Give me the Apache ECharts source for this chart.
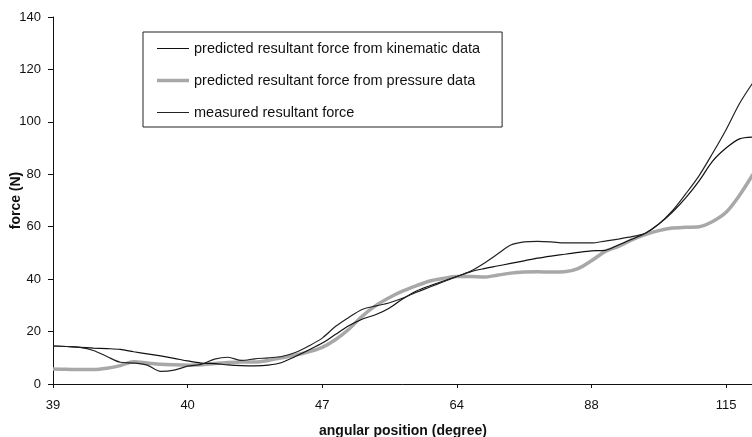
<!DOCTYPE html>
<html>
<head>
<meta charset="utf-8">
<script src="https://cdn.jsdelivr.net/npm/echarts@6/dist/echarts.min.js"></script>
<style>html,body{margin:0;padding:0;background:#fff}#c{width:752px;height:437px}</style>
</head>
<body>
<div id="c"></div>
<script>
// sample positions along the x axis (in tick-label units)
const xPos = [0,0.1,0.2,0.3,0.4,0.5,0.6,0.7,0.8,0.9,1.0,1.1,1.2,1.3,1.4,1.5,1.6,1.7,1.8,1.9,2.0,2.1,2.2,2.3,2.4,2.5,2.6,2.7,2.8,2.9,3.0,3.1,3.2,3.3,3.4,3.5,3.6,3.7,3.8,3.9,4.0,4.1,4.2,4.3,4.4,4.5,4.6,4.7,4.8,4.9,5.0,5.1,5.2];
const tickLabels = ['39','40','47','64','88','115'];
const yTicks = [0,20,40,60,80,100,120,140];

const kinematic = [14.5,14.3,14.0,13.7,13.5,13.2,12.3,11.5,10.7,9.8,8.8,8.0,7.8,7.3,7.0,6.9,7.2,8.2,10.5,13,15.6,19,22.3,24.8,26.5,29,32.5,35.5,37.5,39.3,41,42.8,44,45,46,47,48,48.8,49.5,50.2,50.8,51,53,55.2,57.5,61,65.5,71,77.5,85,90,93.5,94.2];
const pressure = [5.7,5.6,5.5,5.5,6.0,7.0,8.5,8.0,7.5,7.3,7.2,7.3,7.8,8.2,8.4,8.4,9.0,10.0,11.0,12.3,14,17,21,26,30,33,35.5,37.5,39.3,40.3,41,41,40.8,41.5,42.3,42.7,42.8,42.7,42.8,44,47,50.5,52.5,55,57,58.5,59.5,59.8,60,62,65.5,72,80];
const measured = [14.5,14.3,14.0,12.8,10.5,8.3,8.0,7.2,4.8,5.3,6.8,7.5,9.5,10.2,9.0,9.6,10.0,10.5,12.0,14.5,17.5,22,25.5,28.5,29.8,31,32.8,35,37,39,41,43,46,49.5,53,54.2,54.4,54.2,53.8,53.8,53.8,54.5,55.3,56.2,57.5,61,66,72.5,79.5,88,97,107,115];

const names = ['predicted resultant force from kinematic data','predicted resultant force from pressure data','measured resultant force'];
const pair = arr => arr.map((v,i)=>[xPos[i], v]);
const font = 'Liberation Sans, Arial, sans-serif';
// legend icons: horizontal bar inside a 32x14 box (tiny corner specks fix the box)
const box = 'M0,0H0.01V0.01H0Z M31.99,13.99H32V14H31.99Z ';
const thinIcon = 'path://' + box + 'M0,6.4H32V7.6H0Z';
const thickIcon = 'path://' + box + 'M0,5.3H32V8.7H0Z';

const chart = echarts.init(document.getElementById('c'), null, {renderer:'canvas'});
chart.setOption({
  animation:false,
  backgroundColor:'#fff',
  grid:{left:53, top:17, width:700, bottom:53, containLabel:false, outerBoundsMode:'none'},
  legend:{
    orient:'vertical', left:143, top:32,
    padding:[9,22,7,14],
    itemGap:17, itemWidth:32, itemHeight:14,
    borderColor:'#222', borderWidth:1,
    textStyle:{fontFamily:font, fontSize:14.5, color:'#111'},
    data:[
      {name:names[0], icon:thinIcon},
      {name:names[1], icon:thickIcon},
      {name:names[2], icon:thinIcon}
    ]
  },
  xAxis:{
    type:'value', min:0, max:5.2, interval:1,
    name:'angular position (degree)', nameLocation:'middle', nameGap:40,
    nameTextStyle:{fontFamily:font, fontSize:14, fontWeight:'bold', color:'#111'},
    axisLine:{lineStyle:{color:'#111', width:1}},
    axisTick:{show:true, inside:false, length:4, lineStyle:{color:'#111'}, customValues:[0,1,2,3,4,5]},
    axisLabel:{fontFamily:font, fontSize:13, color:'#111', margin:15, customValues:[0,1,2,3,4,5],
      formatter:v=>{const i=Math.round(v); return Math.abs(v-i)<1e-6 && tickLabels[i]!==undefined ? tickLabels[i] : '';}},
    splitLine:{show:false}
  },
  yAxis:{
    type:'value', min:0, max:140, interval:20,
    name:'force (N)', nameLocation:'middle', nameGap:30, nameRotate:90, nameMoveOverlap:false,
    nameTextStyle:{fontFamily:font, fontSize:14, fontWeight:'bold', color:'#111'},
    axisLine:{show:true, lineStyle:{color:'#111', width:1}},
    axisTick:{show:true, length:5, lineStyle:{color:'#111'}},
    axisLabel:{fontFamily:font, fontSize:13, color:'#111', margin:12,
      formatter:v=> yTicks.indexOf(v)>=0 ? String(v) : ''},
    splitLine:{show:false}
  },
  series:[
    {name:names[1], type:'line', data:pair(pressure), showSymbol:false, symbol:'none', smooth:0.3,
      lineStyle:{color:'#a8a8a8', width:3.5}, itemStyle:{color:'#a8a8a8'}, z:1},
    {name:names[0], type:'line', data:pair(kinematic), showSymbol:false, symbol:'none', smooth:0.3,
      lineStyle:{color:'#111', width:1.2}, itemStyle:{color:'#111'}, z:2},
    {name:names[2], type:'line', data:pair(measured), showSymbol:false, symbol:'none', smooth:0.3,
      lineStyle:{color:'#222', width:1.2}, itemStyle:{color:'#222'}, z:3}
  ]
});
</script>
</body>
</html>
